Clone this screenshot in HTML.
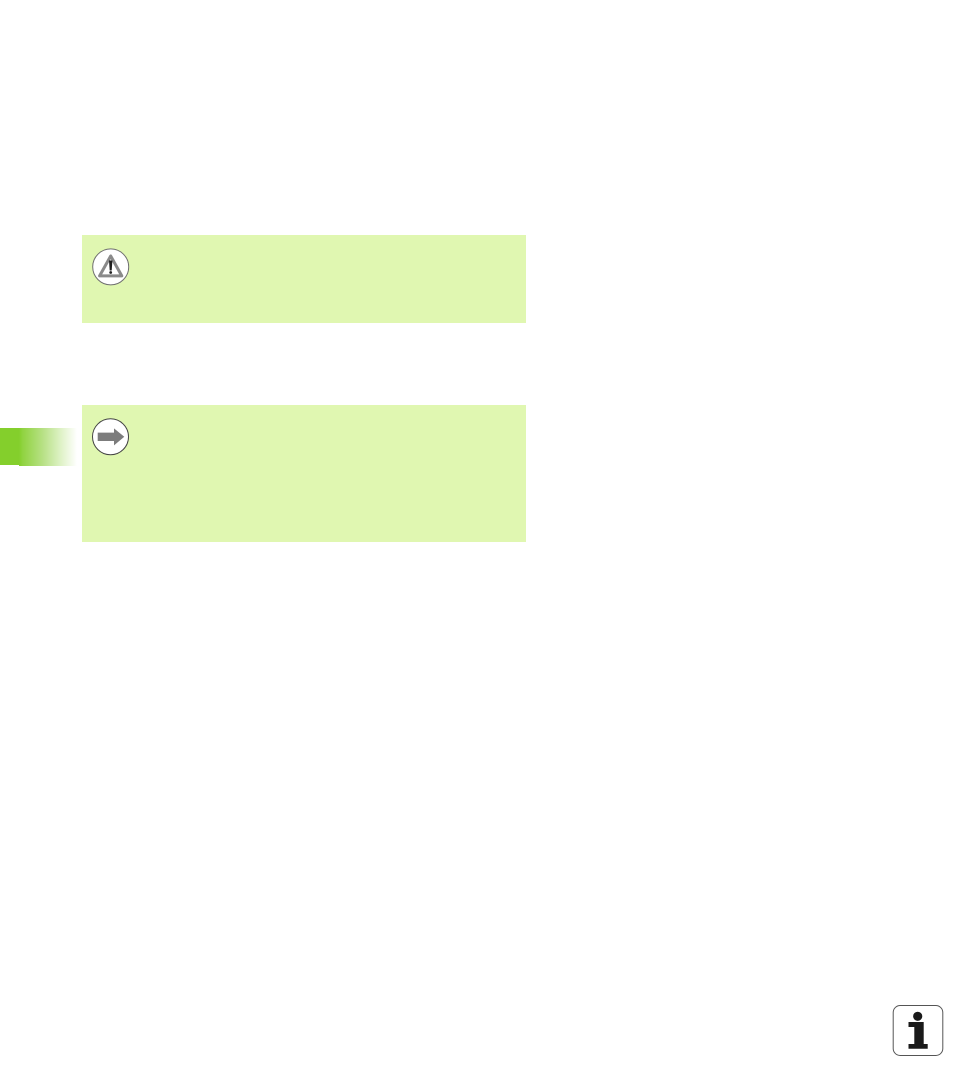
<!DOCTYPE html>
<html>
<head>
<meta charset="utf-8">
<style>
html,body{margin:0;padding:0;background:#fff;}
body{width:954px;height:1090px;overflow:hidden;position:relative;}
svg{position:absolute;left:0;top:0;display:block;}
</style>
</head>
<body>
<svg width="954" height="1090" viewBox="0 0 954 1090" xmlns="http://www.w3.org/2000/svg">
  <defs>
    <linearGradient id="g" x1="0" y1="0" x2="1" y2="0">
      <stop offset="0" stop-color="#84cf2c"/>
      <stop offset="0.06" stop-color="#90d340"/>
      <stop offset="0.4" stop-color="#b6e083"/>
      <stop offset="0.72" stop-color="#def2c6"/>
      <stop offset="1" stop-color="#ffffff"/>
    </linearGradient>
  </defs>
  <rect width="954" height="1090" fill="#fff"/>

  <!-- side tab -->
  <rect x="0" y="428" width="19" height="37" fill="#84cf2c"/>
  <rect x="19" y="428" width="58" height="38" fill="url(#g)"/>

  <!-- note boxes -->
  <rect x="82" y="235" width="444" height="88" fill="#e0f7b1"/>
  <rect x="82" y="405" width="444" height="137" fill="#e0f7b1"/>

  <!-- warning icon -->
  <circle cx="110.7" cy="266.9" r="18" fill="#fff" stroke="#6f6f6f" stroke-width="1"/>
  <path d="M110.7 256 L99.6 275.9 L121.8 275.9 Z" fill="none" stroke="#8a8a8a" stroke-width="3" stroke-linejoin="round"/>
  <path d="M109 260.5 L112.4 260.5 L111.7 270.5 L109.7 270.5 Z" fill="#1f1f1f"/>
  <circle cx="110.7" cy="272.5" r="1.4" fill="#1f1f1f"/>

  <!-- arrow icon -->
  <circle cx="110.5" cy="436.8" r="18" fill="#fff" stroke="#444" stroke-width="1"/>
  <path d="M97.7 432.6 L114 432.6 L114 428.4 L124.3 436.8 L114 445.4 L114 441 L97.7 441 Z" fill="#7c7c7c"/>

  <!-- info icon -->
  <rect x="893.2" y="1005.5" width="49.6" height="50" rx="7" ry="7" fill="#fff" stroke="#555" stroke-width="1"/>
  <circle cx="917.7" cy="1016.3" r="4.6" fill="#1a1a1a"/>
  <path d="M908.5 1022 L923.7 1022 L923.7 1044 L927.7 1044 L927.7 1048.7 L908.5 1048.7 L908.5 1044 L914.3 1044 L914.3 1027 L908.5 1027 Z" fill="#1a1a1a"/>
</svg>
</body>
</html>
